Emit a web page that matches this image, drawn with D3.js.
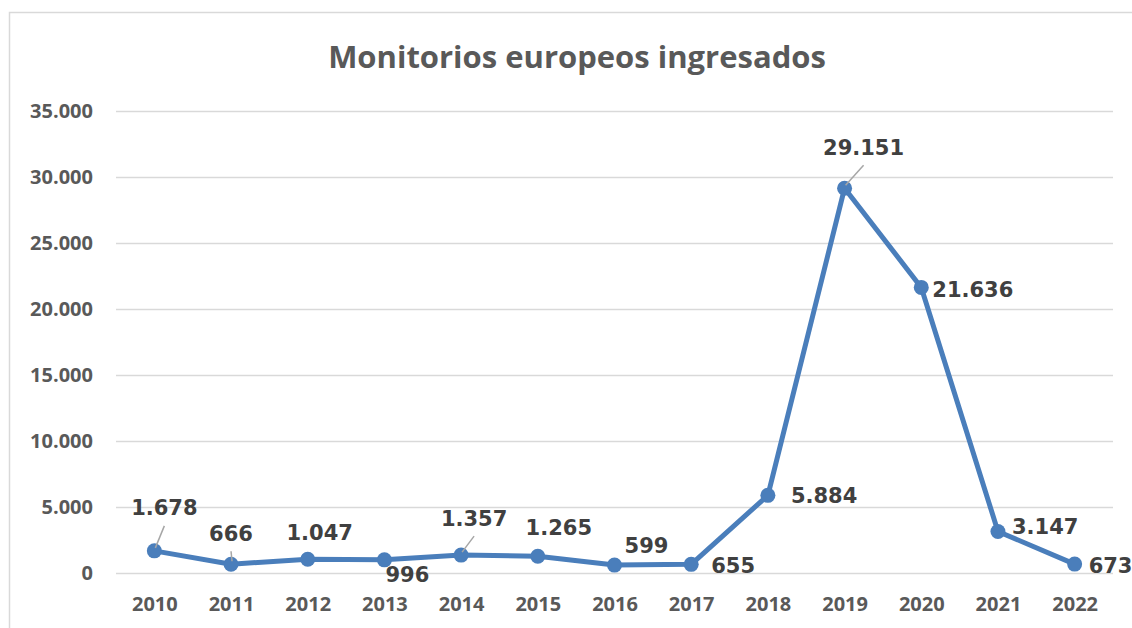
<!DOCTYPE html>
<html>
<head>
<meta charset="utf-8">
<script src="https://cdn.jsdelivr.net/npm/d3@7"></script>
<style>
  body { margin: 0; background: #fff; }
  svg { display: block; }
  .tick text { font-family: "Open Sans", sans-serif; font-weight: bold; font-size: 20px; fill: #595959; }
</style>
</head>
<body>
<div id="chart"></div>
<script>
// data
var years = ["2010", "2011", "2012", "2013", "2014", "2015", "2016", "2017", "2018", "2019", "2020", "2021", "2022"];
var monitorios = [1678, 666, 1047, 996, 1357, 1265, 599, 655, 5884, 29151, 21636, 3147, 673];
var yTicks = [0, 5000, 10000, 15000, 20000, 25000, 30000, 35000];

// where each value label sits relative to its point (dx, dy, anchor, leader line)
var labelPos = [
  [10, -43, "middle", true],
  [0, -31, "middle", true],
  [12, -27, "middle", false],
  [23, 15, "middle", false],
  [13, -37, "middle", true],
  [21, -29, "middle", false],
  [32, -20, "middle", false],
  [20, 1, "start", false],
  [23, 0, "start", false],
  [19, -41, "middle", true],
  [11, 2, "start", false],
  [14, -5, "start", false],
  [14, 1, "start", false]
];

var W = 1132, H = 628;
var plot = {left: 116, right: 1113, top: 111, bottom: 573};

var es = d3.formatLocale({decimal: ",", thousands: ".", grouping: [3], currency: ["", " €"]});
var fmt = es.format(",");

var svg = d3.select("#chart").append("svg")
  .attr("width", W)
  .attr("height", H);

// chart frame
svg.append("rect")
  .attr("x", 9.5).attr("y", 12.5)
  .attr("width", 1160).attr("height", 640)
  .attr("fill", "#fff")
  .attr("stroke", "#d9d9d9")
  .attr("stroke-width", 1.5);

svg.append("text")
  .attr("x", 577)
  .attr("y", 68)
  .attr("text-anchor", "middle")
  .style("font-family", "'Open Sans', sans-serif")
  .style("font-weight", "bold")
  .style("font-size", "31px")
  .style("fill", "#595959")
  .text("Monitorios europeos ingresados");

var x = d3.scalePoint()
  .domain(years)
  .range([plot.left, plot.right])
  .padding(0.5);

var y = d3.scaleLinear()
  .domain([0, 35000])
  .range([plot.bottom, plot.top]);

var yAxis = d3.axisLeft(y)
  .tickValues(yTicks)
  .tickSize(-(plot.right - plot.left))
  .tickPadding(23)
  .tickFormat(fmt);

var gy = svg.append("g")
  .attr("transform", "translate(" + plot.left + ",0)")
  .call(yAxis);
gy.select(".domain").remove();
gy.selectAll(".tick line").attr("stroke", "#d9d9d9").attr("stroke-width", 1.5);

var xAxis = d3.axisBottom(x)
  .tickSize(0)
  .tickPadding(24);

var gx = svg.append("g")
  .attr("transform", "translate(0," + plot.bottom + ")")
  .call(xAxis);
gx.select(".domain").remove();

var pts = years.map((yr, i) => ({year: yr, value: monitorios[i], pos: labelPos[i]}));

var line = d3.line()
  .x(d => x(d.year))
  .y(d => y(d.value));

svg.append("path")
  .datum(pts)
  .attr("d", line)
  .attr("fill", "none")
  .attr("stroke", "#4a7ebb")
  .attr("stroke-width", 5)
  .attr("stroke-linejoin", "round");

svg.selectAll("circle.dot")
  .data(pts)
  .enter().append("circle")
  .attr("class", "dot")
  .attr("cx", d => x(d.year))
  .attr("cy", d => y(d.value))
  .attr("r", 7.5)
  .attr("fill", "#4a7ebb");

// leader lines
svg.selectAll("line.leader")
  .data(pts.filter(d => d.pos[3]))
  .enter().append("line")
  .attr("class", "leader")
  .attr("x1", d => x(d.year) + d.pos[0])
  .attr("y1", d => y(d.value) + d.pos[1] + 18)
  .attr("x2", d => x(d.year) + 1)
  .attr("y2", d => y(d.value) - 3)
  .attr("stroke", "#a6a6a6")
  .attr("stroke-width", 1.5);

svg.selectAll("text.lbl")
  .data(pts)
  .enter().append("text")
  .attr("class", "lbl")
  .attr("x", d => x(d.year) + d.pos[0])
  .attr("y", d => y(d.value) + d.pos[1])
  .attr("dy", "0.36em")
  .attr("text-anchor", d => d.pos[2])
  .style("font-family", "'DejaVu Sans', sans-serif")
  .style("font-weight", "bold")
  .style("font-size", "21px")
  .style("fill", "#404040")
  .text(d => fmt(d.value));
</script>
</body>
</html>
